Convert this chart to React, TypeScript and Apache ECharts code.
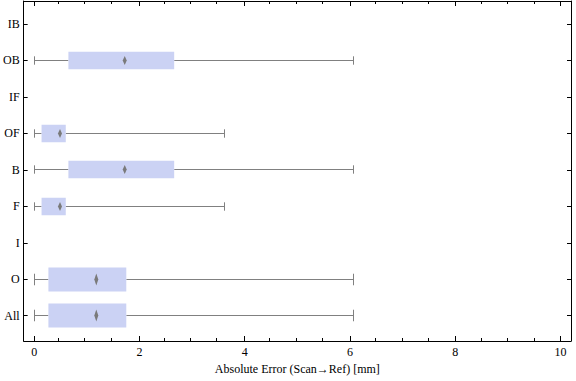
import React, { useEffect, useRef } from "react";
import * as echarts from "echarts";

const categories = ["All", "O", "I", "F", "B", "OF", "IF", "OB", "IB"];
const whiskerLow: (number | null)[] = [0, 0, null, 0, 0, 0, null, 0, null];
const quart1: (number | null)[] = [0.27, 0.27, null, 0.14, 0.65, 0.14, null, 0.65, null];
const medians: (number | null)[] = [1.18, 1.18, null, 0.49, 1.72, 0.49, null, 1.72, null];
const quart3: (number | null)[] = [1.75, 1.75, null, 0.6, 2.66, 0.6, null, 2.66, null];
const whiskerHigh: (number | null)[] = [6.06, 6.06, null, 3.61, 6.06, 3.61, null, 6.06, null];
const xMajorTicks = [0, 2, 4, 6, 8, 10];
const xMinorTicks = [0.5, 1, 1.5, 2.5, 3, 3.5, 4.5, 5, 5.5, 6.5, 7, 7.5, 8.5, 9, 9.5];
const yTicks = [1, 2, 3, 4, 5, 6, 7, 8, 9];

// relative box thickness (in category units) per category
const boxThickness: Record<string, number> = { All: 0.66, O: 0.66 };
const defaultThickness = 0.48;

const X_MIN = -0.2;
const X_MAX = 10.2;
const Y_MIN = 0.306;
const Y_MAX = 9.63;
const FONT = "'Liberation Serif', 'Times New Roman', serif";

export default function App() {
  const ref = useRef<HTMLDivElement>(null);
  useEffect(() => {
    if (!ref.current) return;
    const chart = echarts.init(ref.current, undefined, { renderer: "svg" });

    const data: number[][] = [];
    categories.forEach((c, i) => {
      if (medians[i] == null) return;
      data.push([
        i + 1,
        whiskerLow[i] as number,
        quart1[i] as number,
        medians[i] as number,
        quart3[i] as number,
        whiskerHigh[i] as number,
        boxThickness[c] ?? defaultThickness,
      ]);
    });

    const gridGeom = { left: 21, top: 1, width: 550, height: 340 };
    const labelStyle = { color: "#000", fontFamily: FONT, fontSize: 12 };
    const crisp = (v: number) => Math.round(v - 0.5) + 0.5;

    const mkX = (gridIndex: number, position: string, ticks: number[], len: number, labels: boolean, extra: any = {}) => ({
      type: "value",
      gridIndex,
      position,
      min: X_MIN,
      max: X_MAX,
      axisLine: { show: gridIndex === 0, onZero: false, lineStyle: { color: "#000", width: 1 } },
      axisTick: { show: true, inside: true, length: len, customValues: ticks, lineStyle: { color: "#000", width: 1 } },
      axisLabel: labels
        ? { show: true, customValues: ticks, margin: 5, ...labelStyle }
        : { show: false },
      splitLine: { show: false },
      ...extra,
    });

    const mkY = (gridIndex: number, position: string, labels: boolean, showTicks: boolean) => ({
      type: "value",
      gridIndex,
      position,
      min: Y_MIN,
      max: Y_MAX,
      axisLine: { show: gridIndex === 0, onZero: false, lineStyle: { color: "#000", width: 1 } },
      axisTick: { show: showTicks, inside: true, length: 4, customValues: yTicks, lineStyle: { color: "#000", width: 1 } },
      axisLabel: labels
        ? {
            show: true,
            customValues: yTicks,
            margin: 4,
            ...labelStyle,
            formatter: (v: number) => categories[Math.round(v) - 1] ?? "",
          }
        : { show: false },
      splitLine: { show: false },
    });

    chart.setOption({
      animation: false,
      backgroundColor: "#fff",
      grid: [
        { ...gridGeom, containLabel: false },
        { ...gridGeom, containLabel: false },
      ],
      xAxis: [
        mkX(0, "bottom", xMajorTicks, 5, true, {
          name: "Absolute Error (Scan\u2192Ref) [mm]",
          nameLocation: "middle",
          nameGap: 22,
          nameTextStyle: { ...labelStyle },
        }),
        mkX(0, "top", xMajorTicks, 5, false),
        mkX(1, "bottom", xMinorTicks, 3, false),
        mkX(1, "top", xMinorTicks, 3, false),
      ],
      yAxis: [
        mkY(0, "left", true, true),
        mkY(0, "right", false, true),
        mkY(1, "left", false, false),
      ],
      series: [
        {
          type: "custom",
          xAxisIndex: 0,
          yAxisIndex: 0,
          data,
          encode: { x: [1, 2, 3, 4, 5], y: 0 },
          renderItem: (params: any, api: any) => {
            const y = api.value(0);
            const lo = api.coord([api.value(1), y]);
            const q1 = api.coord([api.value(2), y]);
            const md = api.coord([api.value(3), y]);
            const q3 = api.coord([api.value(4), y]);
            const hi = api.coord([api.value(5), y]);
            const h = api.size([0, api.value(6)])[1];
            const cy = crisp(lo[1]);
            const capH = h * 0.48;
            const dH = h * 0.5;
            const lineStyle = { stroke: "#808080", lineWidth: 1 };
            return {
              type: "group",
              children: [
                { type: "line", shape: { x1: crisp(lo[0]), y1: cy, x2: q1[0], y2: cy }, style: lineStyle },
                { type: "line", shape: { x1: q3[0], y1: cy, x2: crisp(hi[0]), y2: cy }, style: lineStyle },
                { type: "line", shape: { x1: crisp(lo[0]), y1: cy - capH / 2, x2: crisp(lo[0]), y2: cy + capH / 2 }, style: lineStyle },
                { type: "line", shape: { x1: crisp(hi[0]), y1: cy - capH / 2, x2: crisp(hi[0]), y2: cy + capH / 2 }, style: lineStyle },
                {
                  type: "rect",
                  shape: { x: q1[0], y: cy - h / 2, width: q3[0] - q1[0], height: h },
                  style: { fill: "#CBD2F4" },
                },
                {
                  type: "polygon",
                  shape: {
                    points: [
                      [md[0], cy - dH / 2],
                      [md[0] + 2, cy],
                      [md[0], cy + dH / 2],
                      [md[0] - 2, cy],
                    ],
                  },
                  style: { fill: "#7a7a7a" },
                },
              ],
            };
          },
        },
      ],
    });
    return () => chart.dispose();
  }, []);
  return <div ref={ref} style={{ width: 576, height: 381, position: "absolute", left: 0, top: 0 }} />;
}
